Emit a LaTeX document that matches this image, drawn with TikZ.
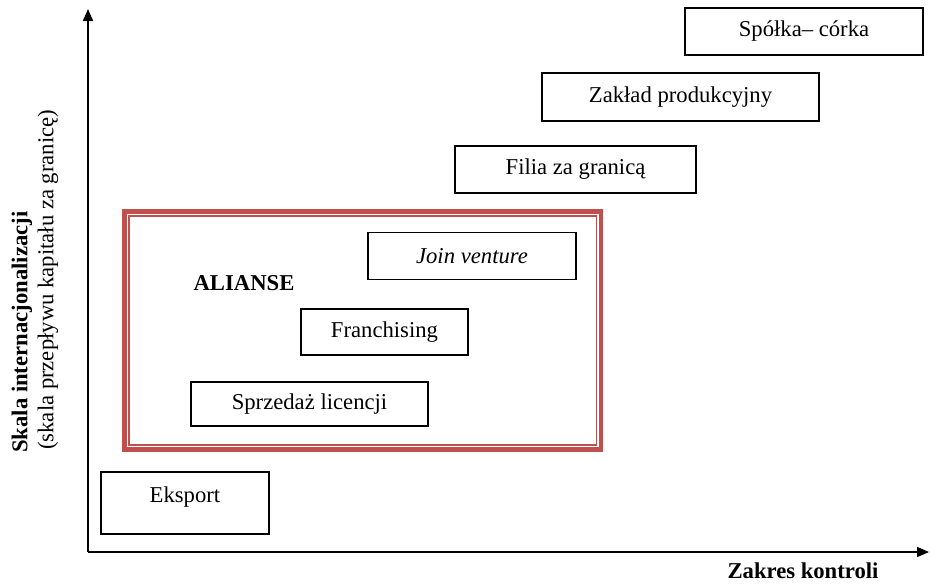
\documentclass[tikz,border=0pt]{standalone}
\usepackage{fontspec}
\setmainfont{Liberation Serif}
\usetikzlibrary{arrows.meta,positioning}
\definecolor{frame}{RGB}{192,80,77}

\begin{document}
\begin{tikzpicture}[
    x=0.75pt, y=-0.75pt,
    mybox/.style={
        rectangle,
        draw=black,
        line width=1.1pt,
        inner sep=0pt,
        font=\fontsize{17}{20}\selectfont},
    axislabel/.style={
        inner sep=0pt,
        font=\fontsize{17}{20}\selectfont\bfseries},
    myaxis/.style={line width=1.1pt,-{Triangle[length=9pt,width=7.5pt]}}
]
\useasboundingbox (0,0) rectangle (930,583);

% axes
\coordinate (o) at (88,552);
\coordinate (ytop) at (88,9);
\coordinate (xend) at (929,552);
\draw[myaxis] (o) -- (ytop);
\draw[myaxis] (o) -- (xend);

\node[axislabel] (xlab) at (803,571) {Zakres kontroli};
\node[axislabel, rotate=90, anchor=west] (ylab1) at (22,453) {Skala internacjonalizacji};
\node[inner sep=0pt, font=\fontsize{17}{20}\selectfont, rotate=90, anchor=west] (ylab2) at (48,450)
    {(skala przepływu kapitału za granicę)};

% alliance frame
\draw[frame, line width=3.6pt] (124.5,211.5) rectangle (601,449.5);
\draw[frame, line width=0.9pt] (129,216) rectangle (596.5,445);
\node[axislabel] (alianse) at (244,283) {ALIANSE};

% forms of entry
\node[mybox, minimum width=238*0.75pt, minimum height=47*0.75pt] (spolka) at (804,31.5) {Spółka– córka};
\node[mybox, minimum width=277*0.75pt, minimum height=48*0.75pt] (zaklad) at (680.5,97) {Zakład produkcyjny};
\node[mybox, minimum width=241*0.75pt, minimum height=47*0.75pt] (filia) at (575.5,169.5) {Filia za granicą};
\node[mybox, minimum width=208*0.75pt, minimum height=47*0.75pt] (join) at (472,256) {\itshape Join venture};
\node[mybox, minimum width=167*0.75pt, minimum height=46*0.75pt] (franch) at (384.5,332) {Franchising};
\node[mybox, minimum width=237*0.75pt, minimum height=44*0.75pt] (licencja) at (309.5,404) {Sprzedaż licencji};
\node[mybox, minimum width=168*0.75pt, minimum height=62*0.75pt, text depth=13pt] (eksport) at (185,503) {Eksport};

\end{tikzpicture}
\end{document}
